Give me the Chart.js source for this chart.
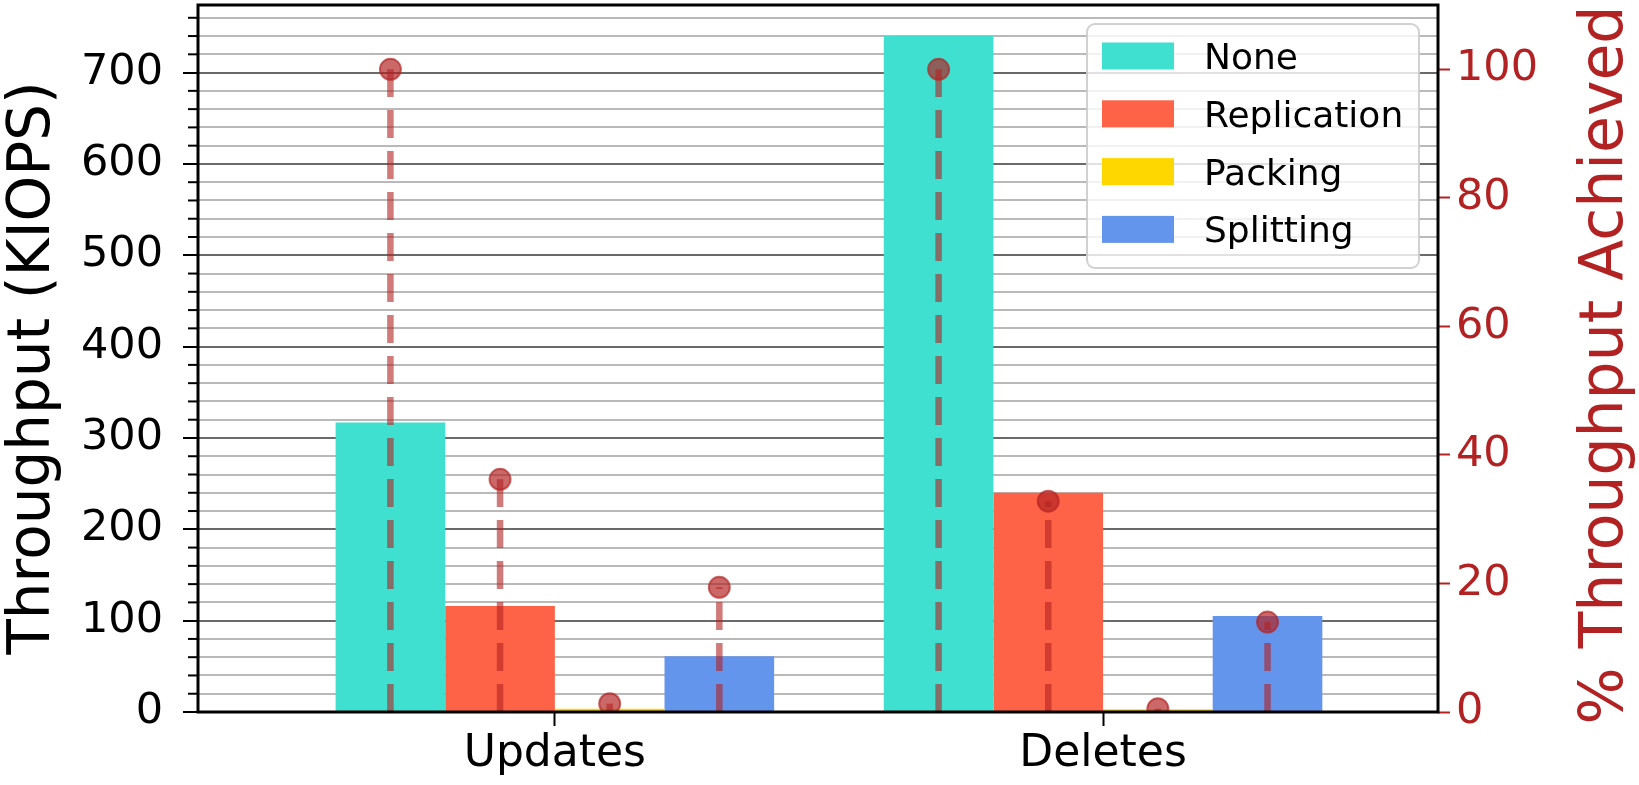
<!DOCTYPE html>
<html>
<head>
<meta charset="utf-8">
<script src="https://cdn.jsdelivr.net/npm/chart.js@4.4.0/dist/chart.umd.min.js"></script>
<style>
  html, body { margin: 0; padding: 0; background: #fff; }
</style>
</head>
<body>
<canvas id="myChart" width="1639" height="785"></canvas>
<script>
const operations = ["Updates", "Deletes"];
const schemes = ["None", "Replication", "Packing", "Splitting"];
const schemeColors = ["#40E0D0", "#FF6347", "#FFD700", "#6495ED"];

// throughput (KIOPS) per scheme, ordered as operations
const noneKiops = [317, 740];
const replicationKiops = [116, 240];
const packingKiops = [3.5, 3];
const splittingKiops = [61, 105];

// % of the "None" throughput, ordered as schemes
const updatesPercent = [100, 36.2, 1.3, 19.4];
const deletesPercent = [100, 32.8, 0.5, 14.0];

const kiopsTicks = [0, 100, 200, 300, 400, 500, 600, 700];
const percentTicks = [0, 20, 40, 60, 80, 100];

const FONT = "DejaVu Sans";
const RED = "#B22222";
const STEM = "rgba(178,34,34,0.6)";
const DOT = "rgba(178,34,34,0.68)";
const GROUP = 0.8; // share of a category taken by its bars

const kiopsBySeries = [noneKiops, replicationKiops, packingKiops, splittingKiops];
const percentByOp = [updatesPercent, deletesPercent];

// x position of a bar centre (bars are grouped around the category index)
function barCenter(op, s) {
  const w = GROUP / schemes.length;
  return op + (s - (schemes.length - 1) / 2) * w;
}

const barSets = schemes.map((name, s) => ({
  type: "bar",
  label: name,
  data: kiopsBySeries[s].map((v, op) => ({ x: op, y: v })),
  backgroundColor: schemeColors[s],
  borderWidth: 0,
  categoryPercentage: GROUP,
  barPercentage: 1.0,
  yAxisID: "y",
  order: 3,
}));

const stemSets = [];
const dotPoints = [];
percentByOp.forEach((pcts, op) => {
  pcts.forEach((p, s) => {
    const x = barCenter(op, s);
    stemSets.push({
      type: "line",
      label: "stem",
      data: [{ x: x, y: 0 }, { x: x, y: p }],
      borderColor: STEM,
      borderWidth: 6.5,
      borderDash: [28, 13],
      borderCapStyle: "butt",
      pointRadius: 0,
      yAxisID: "yPct",
      order: 2,
    });
    dotPoints.push({ x: x, y: p });
  });
});

const dotSet = {
  type: "scatter",
  label: "pct",
  data: dotPoints,
  backgroundColor: DOT,
  borderColor: DOT,
  borderWidth: 2,
  pointRadius: 10.5,
  yAxisID: "yPct",
  order: 1,
};

// scales keep exactly the size given, no extra room for overflowing labels
function fixSize(prop, size) {
  return (scale) => {
    scale[prop] = size;
    scale.paddingTop = 0;
    scale.paddingBottom = 0;
    scale.paddingLeft = 0;
    scale.paddingRight = 0;
  };
}

// plot frame drawn over the bars, like spines
const framePlugin = {
  id: "frame",
  afterDatasetsDraw(chart) {
    const { ctx, chartArea: a } = chart;
    ctx.save();
    ctx.strokeStyle = "#000";
    ctx.lineWidth = 3;
    ctx.strokeRect(a.left, a.top, a.right - a.left, a.bottom - a.top);
    // short minor tick marks on the left axis
    const y = chart.scales.y;
    ctx.lineWidth = 2;
    y.ticks.forEach((t) => {
      if (kiopsTicks.includes(t.value)) return;
      const py = y.getPixelForValue(t.value);
      ctx.beginPath();
      ctx.moveTo(a.left - 10, py);
      ctx.lineTo(a.left, py);
      ctx.stroke();
    });
    ctx.restore();
  },
};

// axis titles, both reading bottom to top
const titlesPlugin = {
  id: "titles",
  afterDraw(chart) {
    const { ctx } = chart;
    const drawTitle = (text, x, y, size, color) => {
      ctx.save();
      ctx.translate(x, y);
      ctx.rotate(-Math.PI / 2);
      ctx.font = size + "px '" + FONT + "'";
      ctx.fillStyle = color;
      ctx.textAlign = "center";
      ctx.textBaseline = "alphabetic";
      ctx.fillText(text, 0, 0);
      ctx.restore();
    };
    drawTitle("Throughput (KIOPS)", 49, 368, 58, "#000");
    drawTitle("% Throughput Achieved", 1622, 365, 60, RED);
  },
};

// boxed legend in the upper right of the plot
const legendPlugin = {
  id: "boxLegend",
  afterDraw(chart) {
    const { ctx, chartArea: a } = chart;
    const w = 332, h = 244, r = 8;
    const left = a.right - 19 - w, top = a.top + 19;
    ctx.save();
    ctx.beginPath();
    ctx.roundRect(left, top, w, h, r);
    ctx.fillStyle = "rgba(255,255,255,0.8)";
    ctx.fill();
    ctx.strokeStyle = "rgba(204,204,204,0.9)";
    ctx.lineWidth = 2;
    ctx.stroke();
    ctx.font = "36px '" + FONT + "'";
    ctx.textBaseline = "alphabetic";
    ctx.textAlign = "left";
    barSets.forEach((ds, i) => {
      const cy = top + 32 + i * 57.8;
      ctx.fillStyle = ds.backgroundColor;
      ctx.fillRect(left + 15, cy - 13.5, 72, 27);
      ctx.fillStyle = "#000";
      ctx.fillText(ds.label, left + 117, cy + 13);
    });
    ctx.restore();
  },
};

const ctx = document.getElementById("myChart");

new Chart(ctx, {
  type: "bar",
  data: { datasets: [...barSets, ...stemSets, dotSet] },
  plugins: [framePlugin, titlesPlugin, legendPlugin],
  options: {
    responsive: false,
    animation: false,
    devicePixelRatio: 1,
    layout: { autoPadding: false, padding: { top: 5, left: 0, right: 0, bottom: 0 } },
    plugins: { legend: { display: false }, tooltip: { enabled: false } },
    scales: {
      x: {
        type: "linear",
        min: -0.651,
        max: 1.611,
        offset: false,
        afterBuildTicks: (scale) => {
          scale.ticks = operations.map((_, i) => ({ value: i }));
        },
        afterFit: fixSize("height", 73),
        grid: {
          offset: false,
          drawOnChartArea: false,
          drawTicks: true,
          tickLength: 14,
          tickWidth: 2,
          tickColor: "#000",
          color: "#000",
        },
        border: { display: false },
        ticks: {
          autoSkip: false,
          maxRotation: 0,
          color: "#000",
          font: { family: FONT, size: 44 },
          padding: 2,
          callback: (v) => operations[v],
        },
      },
      y: {
        position: "left",
        min: 0,
        max: 774,
        afterBuildTicks: (scale) => {
          const t = [];
          for (let v = 0; v < 774; v += 20) t.push({ value: v });
          scale.ticks = t;
        },
        afterFit: fixSize("width", 198),
        grid: {
          color: (c) => (kiopsTicks.includes(c.tick.value) ? "#6a6a6a" : "#b9b9b9"),
          lineWidth: 2,
          tickLength: 15,
          tickWidth: 2,
          tickColor: (c) => (kiopsTicks.includes(c.tick.value) ? "#000" : "rgba(0,0,0,0)"),
        },
        border: { display: false },
        ticks: {
          autoSkip: false,
          color: "#000",
          font: { family: FONT, size: 43 },
          padding: 20,
          callback: (v) => (kiopsTicks.includes(v) ? String(v) : ""),
        },
      },
      yPct: {
        position: "right",
        min: 0,
        max: 110,
        afterBuildTicks: (scale) => {
          scale.ticks = percentTicks.map((v) => ({ value: v }));
        },
        afterFit: fixSize("width", 201),
        grid: {
          drawOnChartArea: false,
          tickLength: 12,
          tickWidth: 2,
          tickColor: RED,
          color: RED,
        },
        border: { display: false },
        ticks: {
          color: RED,
          font: { family: FONT, size: 43 },
          padding: 6,
        },
      },
    },
  },
});
</script>
</body>
</html>
